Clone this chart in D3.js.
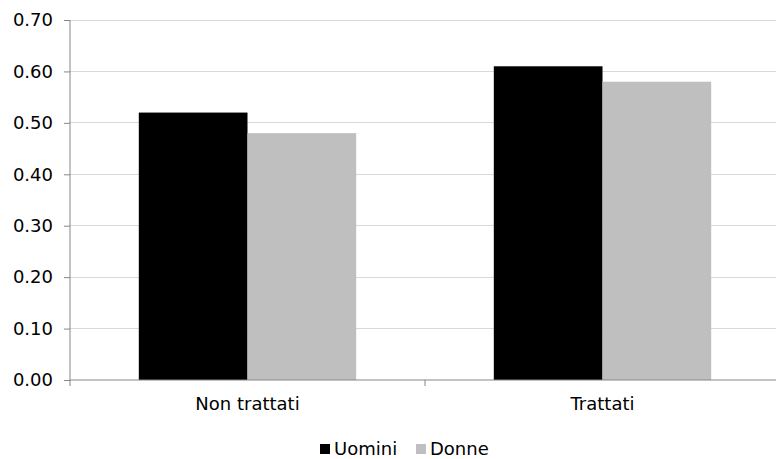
<!DOCTYPE html>
<html><head><meta charset="utf-8">
<script src="https://cdn.jsdelivr.net/npm/d3@7"></script>
<style>body{margin:0;background:#fff}svg{display:block}text{font-family:"DejaVu Sans",Verdana,sans-serif;fill:#000}</style>
</head><body>
<svg id="c" width="776" height="459"></svg>
<script>
const categories = ["Non trattati", "Trattati"];
const seriesNames = ["Uomini", "Donne"];
const uomini = [0.52, 0.61];
const donne = [0.48, 0.58];
const yTicks = [0, 0.1, 0.2, 0.3, 0.4, 0.5, 0.6, 0.7];
const colors = ["#000000", "#bfbfbf"];

const svg = d3.select("#c");
const mLeft = 70, mRight = 780, mTop = 20, mBottom = 380;
const x = d3.scaleBand().domain(categories).range([mLeft, mRight]).paddingInner(0).paddingOuter(0);
const y = d3.scaleLinear().domain([0, 0.7]).range([mBottom, mTop]);
const inner = d3.scaleBand().domain(seriesNames).range([0, x.bandwidth()]).paddingOuter(0.633).paddingInner(0);

// gridlines
svg.append("g").selectAll("line").data(yTicks.filter(d => d > 0)).join("line")
  .attr("x1", mLeft).attr("x2", mRight).attr("y1", d => y(d)).attr("y2", d => y(d))
  .attr("stroke", "#d9d9d9").attr("stroke-width", 1).attr("shape-rendering", "crispEdges");

// bars
const data = [uomini, donne];
seriesNames.forEach((s, i) => {
  svg.append("g").selectAll("rect").data(categories).join("rect")
    .attr("x", c => x(c) + inner(s))
    .attr("y", (c, j) => y(data[i][j]))
    .attr("width", inner.bandwidth())
    .attr("height", (c, j) => y(0) - y(data[i][j]))
    .attr("fill", colors[i]);
});

// y axis
const yAxis = d3.axisLeft(y).tickValues(yTicks).tickFormat(d3.format(".2f")).tickSize(6).tickPadding(11);
const gy = svg.append("g").attr("transform", `translate(${mLeft},0)`).call(yAxis);
gy.select(".domain").attr("stroke", "#868686").attr("d", `M0,${mTop}V${mBottom}`);
gy.selectAll(".tick line").attr("stroke", "#868686");
gy.selectAll(".tick text").attr("font-size", 18).attr("font-family", "DejaVu Sans");

// x axis
const xAxis = d3.axisBottom(x).tickSize(0).tickPadding(17);
const gx = svg.append("g").attr("transform", `translate(0,${mBottom})`).call(xAxis);
gx.select(".domain").attr("stroke", "#868686").attr("d", `M${mLeft},0H${mRight}`);
gx.selectAll(".tick text").attr("font-size", 18).attr("font-family", "DejaVu Sans");
// category separators
svg.append("g").selectAll("line").data(categories.concat(["end"])).join("line")
  .attr("x1", (c, i) => i < categories.length ? x(c) : mRight)
  .attr("x2", (c, i) => i < categories.length ? x(c) : mRight)
  .attr("y1", mBottom).attr("y2", mBottom + 6)
  .attr("stroke", "#868686");

// legend
const lg = svg.append("g").attr("transform", "translate(320,455)");
const legendX = [0, 96];
seriesNames.forEach((s, i) => {
  lg.append("rect").attr("x", legendX[i]).attr("y", -11).attr("width", 10).attr("height", 10).attr("fill", colors[i]);
  lg.append("text").attr("x", legendX[i] + 14).attr("y", 0).attr("font-size", 18).text(s);
});
</script>
</body></html>
